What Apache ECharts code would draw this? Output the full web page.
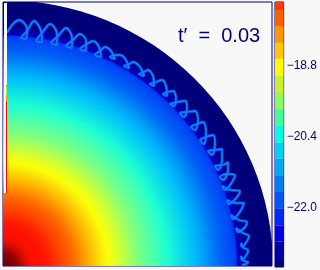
<!DOCTYPE html>
<html><head><meta charset="utf-8">
<style>html,body{margin:0;padding:0;background:#f8f8f8}#c{width:320px;height:270px}</style>
<script src="https://cdn.jsdelivr.net/npm/echarts@6/dist/echarts.min.js"></script>
</head><body><div id="c"></div>
<script>
var titleText = "t\u2032\u00a0\u00a0=\u00a0\u00a00.03";
var tickValues = [-18.8, -20.4, -22.0];
var ringRadius = [0,5,10,15,20,25,30,35,40,45,50,55,60,65,70,75,80,85,90,95,100,105,110,115,120,125,130,135,140,145,150,155,160,165,170,175,180,185,190,195,200,205,210,215,220,225,230,233,235,240,243,270];
var ringValue = [-16.9,-16.92,-16.98,-17.1,-17.3,-17.45,-17.53,-17.55,-17.57,-17.61,-17.68,-17.76,-17.83,-17.9,-17.98,-18.08,-18.2,-18.33,-18.47,-18.6,-18.74,-18.84,-18.93,-19.03,-19.14,-19.26,-19.38,-19.5,-19.61,-19.72,-19.83,-19.94,-20.06,-20.18,-20.3,-20.43,-20.55,-20.68,-20.8,-20.93,-21.07,-21.23,-21.4,-21.6,-21.8,-21.95,-22.1,-22.2,-22.95,-23.1,-23.4,-23.4];
var barEdges = [-17.36,-17.54,-17.90,-18.28,-18.64,-19.03,-19.41,-19.77,-20.15,-20.53,-20.89,-21.28,-21.64,-22.02,-22.40,-22.76,-23.15,-23.33];
var barColors = ["#ff3c00","#ff5f00","#ff9600","#ffc800","#fffa00","#c8f032","#8cfa5a","#46fa96","#00ffdc","#00d2f0","#00aaf0","#007df5","#0055f5","#0028f0","#0000dc","#0000a0","#000078"];
var palette = ["#000078","#0000d7","#0046f5","#0078f5","#00c0fa","#1effd2","#80ff80","#faff0a","#ff9600","#ff1000","#700000"];
var ribbonPoints = [
 [7,33],[12,25],
 [19,20],[27,29],[26,39],[21,38],[27,31],
 [34,21],[41,31],[42,42],[36,41],[42,33],
 [50,24],[57,34],[57,45],[51,43],[58,36],
 [66,28],[72,38],[72,48],[66,46],[73,40],
 [80,34],[86,41],[86,51],[80,49],[87,44],
 [93,41],[99,47],[101,57],[95,55],[101,50],
 [105,47],[111,51],[115,59],[110,57],[116,55],
 [120,55],[126,60],[129,68],[124,66],[129,64],
 [133,62],[140,67],[144,76],[139,74],[144,72],
 [148,70],[153,76],[154,86],[150,84],[156,82],
 [162,80],[166,86],[167,96],[163,94],[168,92],
 [173,91],[176,98],[174,106],[170,104],[177,102],
 [185,101],[187,108],[184,117],[180,113],[187,112],
 [195,111],[198,120],[195,130],[191,127],[197,124],
 [203,122],[206,132],[204,144],[200,140],[206,137],
 [213,135],[215,144],[212,155],[208,151],[215,150],
 [222,149],[222,160],[218,170],[215,166],[223,165],
 [228,162],[228,170],[223,180],[220,177],[227,174],
 [235,175],[232,182],[225,190],[222,186],[231,190],
 [240,191],[237,197],[229,204],[227,200],[236,203],
 [244,203],[241,210],[233,219],[231,215],[239,220],
 [247,222],[245,227],[238,232],[236,228],[243,233],
 [249,236],[247,241],[242,247],[241,243],[244,248],
 [248,250],[247,254],[242,260],[241,256],[244,261],
 [248,262],[246,264],[242,265]
];
var whiteStripCol = 5, whiteStripRow = [3,193];
var whiteTopCol = 6.5, whiteTopRow = [3,85];
var greenStripRow = [86,95], orangeStripRow = [95,102], redStripRow = [102,193], stripCol = 6.5;

function valueColor(v){ return echarts.color.lerp((v+23.4)/6.5, palette); }
var ringStops = ringRadius.map(function(r,i){ return {offset:r/270, color:valueColor(ringValue[i])}; });
var bands = barColors.map(function(c,i){return [barEdges[i], barEdges[i+1], i];});
function vline(col,rows){return rows.map(function(r){return [col,r];});}
function strip(data,color,width){
  return {type:'line',data:data,symbol:'none',silent:true,animation:false,lineStyle:{color:color,width:width},z:6};
}
var navy = '#000080', bg = '#f8f8f8';
var chart = echarts.init(document.getElementById('c'),null,{renderer:'canvas',width:320,height:270});
chart.setOption({
  animation:false,
  backgroundColor:bg,
  title:{text:titleText,left:173,top:21,textStyle:{fontFamily:'Liberation Sans',fontWeight:'normal',fontSize:20,color:navy}},
  grid:[
    {left:3,top:2,width:269,height:264,show:true,borderColor:navy,borderWidth:1,backgroundColor:bg},
    {left:275,top:2,width:9,height:265,show:true,borderColor:navy,borderWidth:1,backgroundColor:bg}
  ],
  xAxis:[
    {type:'value',min:3,max:272,show:false,gridIndex:0},
    {type:'value',min:0,max:1,show:false,gridIndex:1}
  ],
  yAxis:[
    {type:'value',min:2,max:266,inverse:true,show:false,gridIndex:0},
    {type:'value',min:-23.33,max:-17.36,position:'right',gridIndex:1,
     axisLine:{show:false},axisTick:{show:false},splitLine:{show:false},
     axisLabel:{customValues:tickValues,margin:3,color:navy,fontFamily:'Liberation Sans',fontSize:12,
       formatter:function(v){return '\u2212'+Math.abs(v).toFixed(1);}}}
  ],
  series:[
    {type:'custom',xAxisIndex:0,yAxisIndex:0,clip:true,silent:true,data:[[270]],animation:false,
     encode:{x:0},
     renderItem:function(p,api){
       var r=api.value(0), c=api.coord([3,266]);
       var rx=api.coord([3+r,266])[0]-c[0], ry=c[1]-api.coord([3,266-r*0.985])[1];
       return {type:'circle',x:c[0],y:c[1],scaleX:1,scaleY:ry/rx,shape:{cx:0,cy:0,r:rx},
               style:{fill:new echarts.graphic.RadialGradient(0.5,0.5,0.5,ringStops)}};
     }},
    {type:'line',xAxisIndex:0,yAxisIndex:0,data:ribbonPoints,smooth:0.35,symbol:'none',silent:true,z:4,animation:false,
     lineStyle:{color:'#0050f0',width:2.8}},
    {type:'line',xAxisIndex:0,yAxisIndex:0,data:ribbonPoints,smooth:0.35,symbol:'none',silent:true,z:5,animation:false,
     lineStyle:{color:'#0a88ff',width:1.3}},
    strip(vline(whiteStripCol,whiteStripRow),bg,2),
    strip(vline(whiteTopCol,whiteTopRow),bg,1),
    strip(vline(stripCol,greenStripRow),'#a0f040',1),
    strip(vline(stripCol,orangeStripRow),'#ff9600',1),
    strip(vline(stripCol,redStripRow),'#f01000',1),
    {type:'custom',xAxisIndex:1,yAxisIndex:1,clip:true,silent:true,data:bands,animation:false,
     encode:{y:[0,1]},
     renderItem:function(p,api){
       var a=api.coord([0,api.value(0)]), b=api.coord([1,api.value(1)]);
       return {type:'rect',shape:{x:a[0],y:a[1],width:b[0]-a[0],height:b[1]-a[1]},style:{fill:barColors[api.value(2)]}};
     }}
  ]
});
</script></body></html>
